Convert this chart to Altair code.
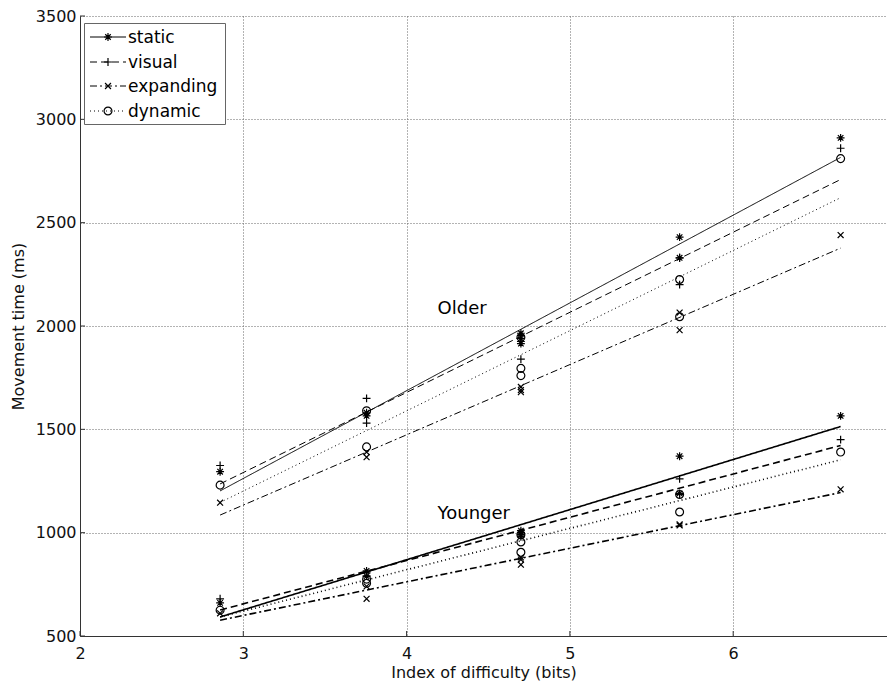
import altair as alt
import pandas as pd

# ---------------- data ----------------
IDS = [2.858, 3.755, 3.755, 4.700, 4.700, 4.700, 5.672, 5.672, 6.658]
CONDITIONS = ["static", "visual", "expanding", "dynamic"]
GROUPS = ["Older", "Younger"]

older_static = [1295, 1565, 1580, 1965, 1940, 1915, 2430, 2330, 2910]
older_visual = [1325, 1650, 1530, 1955, 1925, 1840, 2200, 2330, 2860]
older_expanding = [1145, 1390, 1365, 1705, 1680, 1690, 2065, 1980, 2440]
older_dynamic = [1230, 1590, 1415, 1795, 1760, 1945, 2225, 2045, 2810]

younger_static = [660, 815, 790, 1010, 1000, 990, 1370, 1190, 1565]
younger_visual = [680, 805, 790, 1000, 990, 980, 1260, 1185, 1450]
younger_expanding = [610, 740, 680, 870, 845, 880, 1035, 1040, 1210]
younger_dynamic = [625, 775, 755, 955, 905, 990, 1185, 1100, 1390]

X_TICKS = [2, 3, 4, 5, 6, 7]
Y_TICKS = [500, 1000, 1500, 2000, 2500, 3000, 3500]

LABELS = ["Older", "Younger"]
LABEL_X = [4.19, 4.19]
LABEL_Y = [2080, 1090]

series = {
    ("Older", "static"): older_static,
    ("Older", "visual"): older_visual,
    ("Older", "expanding"): older_expanding,
    ("Older", "dynamic"): older_dynamic,
    ("Younger", "static"): younger_static,
    ("Younger", "visual"): younger_visual,
    ("Younger", "expanding"): younger_expanding,
    ("Younger", "dynamic"): younger_dynamic,
}
rows = []
for (g, c), vals in series.items():
    for x, y in zip(IDS, vals):
        rows.append({"group": g, "cond": c, "id": x, "mt": y})
df = pd.DataFrame(rows)

# ---------------- styles ----------------
W, H = 807, 620
FONT = "DejaVu Sans"
STAR = "M-1,0L1,0M0,-1L0,1M-0.7,-0.7L0.7,0.7M-0.7,0.7L0.7,-0.7"
PLUS = "M-1,0L1,0M0,-1L0,1"
XMARK = "M-0.75,-0.75L0.75,0.75M-0.75,0.75L0.75,-0.75"
SHAPES = [STAR, PLUS, XMARK, "circle"]
DASHES = [[1, 0], [7, 4], [7, 3, 2, 3], [1, 3]]

# the original figure is cropped just before x = 7
xscale = alt.Scale(domain=[2, 6.942], nice=False, zero=False)
yscale = alt.Scale(domain=[500, 3500], nice=False, zero=False)
XAXIS = alt.Axis(values=X_TICKS, format="d", title="Index of difficulty (bits)",
                 labelPadding=9, titlePadding=3, labelFontSize=16, titleFontSize=16,
                 labelFlush=False)
YAXIS = alt.Axis(values=Y_TICKS, format="d", title="Movement time (ms)",
                 labelPadding=4, titlePadding=9, labelFontSize=16, titleFontSize=16,
                 labelFlush=False)


def X():
    return alt.X("id:Q", scale=xscale, axis=XAXIS)


def Y():
    return alt.Y("mt:Q", scale=yscale, axis=YAXIS)


lines = (
    alt.Chart(df)
    .transform_regression("id", "mt", groupby=["group", "cond"])
    .mark_line(color="black")
    .encode(
        x=X(), y=Y(),
        strokeDash=alt.StrokeDash("cond:N", scale=alt.Scale(domain=CONDITIONS, range=DASHES), legend=None),
        strokeWidth=alt.StrokeWidth("group:N", scale=alt.Scale(domain=GROUPS, range=[1.0, 1.6]), legend=None),
        detail="group:N",
    )
)

points = (
    alt.Chart(df)
    .mark_point(filled=False, color="black", size=62, strokeWidth=1.2, opacity=1)
    .encode(
        x=X(), y=Y(),
        shape=alt.Shape("cond:N", scale=alt.Scale(domain=CONDITIONS, range=SHAPES), legend=None),
    )
)

annot = (
    alt.Chart(pd.DataFrame({"label": LABELS, "id": LABEL_X, "mt": LABEL_Y}))
    .mark_text(align="left", baseline="middle", font=FONT, fontSize=18, color="black")
    .encode(x=X(), y=Y(), text="label:N")
)

xticks = (
    alt.Chart(pd.DataFrame({"id": X_TICKS[:-1]}))
    .mark_rule(color="#333", strokeWidth=1)
    .encode(x=X(), y=alt.value(H), y2=alt.value(H - 5))
)
yticks = (
    alt.Chart(pd.DataFrame({"mt": Y_TICKS}))
    .mark_rule(color="#333", strokeWidth=1)
    .encode(y=Y(), x=alt.value(0), x2=alt.value(5))
)

# ---------------- legend (drawn inside plot, top-left) ----------------
legend_layers = [
    alt.Chart(pd.DataFrame({"a": [0]}))
    .mark_rect(fill="white", stroke="#666", strokeWidth=1)
    .encode(x=alt.value(4.5), x2=alt.value(145.5), y=alt.value(7.5), y2=alt.value(108.5))
]
row_y = [21, 46, 70, 95]
for i, c in enumerate(CONDITIONS):
    d = pd.DataFrame({"label": [c]})
    legend_layers.append(
        alt.Chart(d).mark_rule(color="black", strokeWidth=1, strokeDash=DASHES[i])
        .encode(x=alt.value(10), x2=alt.value(46), y=alt.value(row_y[i]))
    )
    legend_layers.append(
        alt.Chart(d).mark_point(filled=False, color="black", size=62, strokeWidth=1.2,
                                shape=SHAPES[i], opacity=1)
        .encode(x=alt.value(28), y=alt.value(row_y[i]))
    )
    legend_layers.append(
        alt.Chart(d).mark_text(align="left", baseline="middle", font=FONT, fontSize=17, color="black")
        .encode(x=alt.value(48), y=alt.value(row_y[i] + 1), text="label:N")
    )

chart = (
    alt.layer(lines, points, annot, xticks, yticks, *legend_layers)
    .properties(width=W, height=H, autosize="none",
                padding={"left": 72, "top": 8, "right": 0, "bottom": 46})
    .configure_view(stroke=None)
    .configure_axis(
        domainColor="#333", domainWidth=1,
        grid=True, gridColor="#666", gridDash=[1, 2], gridWidth=1, gridOpacity=1,
        ticks=False, tickSize=0,
        labelFont=FONT, labelColor="#111",
        titleFont=FONT, titleFontWeight="normal", titleColor="#111",
    )
)

chart.save("out.html", embed_options={"renderer": "svg", "actions": False})
